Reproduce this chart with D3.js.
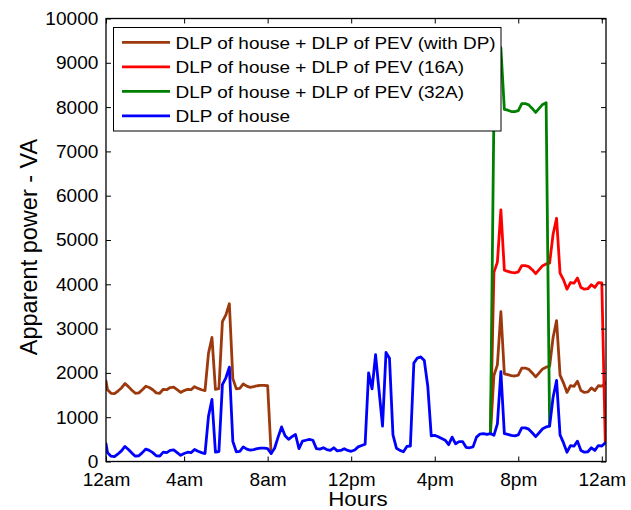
<!DOCTYPE html>
<html><head><meta charset="utf-8">
<script src="https://cdn.jsdelivr.net/npm/d3@7"></script>
<style>body{margin:0;background:#fff} svg{display:block} text{font-family:"Liberation Sans",Arial,sans-serif;fill:#000}</style>
</head><body><svg id="c" width="631" height="510"></svg>
<script>
// 10-minute samples; sample i is at (i+1)*SAMPLE_HOURS hours
const SAMPLE_HOURS = 1 / 6;

// DLP of house (VA)
const house = [
  400,200,120,110,170,240,340,270,190,120,
  130,200,280,250,200,130,120,210,200,250,
  260,200,140,180,210,200,270,230,200,180,
  1020,1400,210,225,1735,1890,2130,450,220,230,
  330,280,255,270,290,300,300,290,180,300,
  550,780,580,500,560,610,290,460,480,500,
  480,290,280,310,270,250,310,240,250,290,
  250,230,260,330,360,390,2000,1640,2410,1600,
  800,2460,2330,600,300,250,220,340,350,2220,
  2335,2360,2280,1700,580,590,560,520,480,380,
  550,400,450,450,320,310,330,550,620,630,
  610,630,590,850,2030,630,610,590,580,600,
  760,760,730,650,560,650,740,780,800,1450,
  1830,600,420,210,360,345,460,250,210,220,
  310,250,360,350,420
];

// DLP of house + DLP of PEV (with DP): morning part starts at sample 0
const dpMorningStart = 0;
const dpMorning = [
  1820,1620,1540,1530,1590,1660,1760,1690,1610,1540,
  1550,1620,1700,1670,1620,1550,1540,1630,1620,1670,
  1680,1620,1560,1600,1630,1620,1690,1650,1620,1600,
  2440,2800,1630,1645,3155,3310,3560,1870,1640,1650,
  1750,1700,1675,1690,1710,1720,1720,1710,180
];
const dpEveningStart = 111;
const dpEvening = [
  630,1940,2180,3380,1980,1960,1940,1930,1950,2110,
  2110,2080,2000,1910,2000,2090,2130,2150,2800,3180,
  1950,1770,1560,1710,1695,1810,1600,1560,1570,1660,
  1600,1710,1700,1770
];

// DLP of house + DLP of PEV (16A)
const pev16Start = 111;
const pev16 = [
  630,4270,4500,5680,4320,4290,4270,4260,4280,4420,
  4420,4400,4330,4240,4330,4420,4460,4480,5130,5490,
  4250,4100,3890,4040,4025,4140,3930,3890,3900,3990,
  3930,4040,4030,420
];

// DLP of house + DLP of PEV (32A)
const pev32Start = 111;
const pev32 = [
  630,7900,8150,9340,7950,7930,7900,7900,7920,8080,
  8080,8050,7970,7880,7970,8060,8100,800
];

const yTickValues = [0,1000,2000,3000,4000,5000,6000,7000,8000,9000,10000];
const xTickHours = [0,4,8,12,16,20,24];
const xTickLabels = ["12am","4am","8am","12pm","4pm","8pm","12am"];
const legendLabels = [
  "DLP of house + DLP of PEV (with DP)",
  "DLP of house + DLP of PEV (16A)",
  "DLP of house + DLP of PEV (32A)",
  "DLP of house"
];
const colors = ["#9c3a0e", "#ff0000", "#008000", "#0000ff"];

const SX = 1.09; // horizontal text stretch of the original figure
const svg = d3.select("#c");
const L = 106, R = 606, T = 18.5, B = 461.5;

const x = d3.scaleLinear().domain([0.26, 24.2]).range([L, R]).clamp(true);
const y = d3.scaleLinear().domain([0, 10000]).range([B, T]);

function pts(arr, start) {
  return arr.map((v, k) => ({ t: (start + k + 1) * SAMPLE_HOURS, v }));
}
const line = d3.line().x(d => x(d.t)).y(d => y(d.v));

const series = [
  { d: pts(dpMorning, dpMorningStart), c: colors[0] },
  { d: pts(dpEvening, dpEveningStart), c: colors[0] },
  { d: pts(pev16, pev16Start), c: colors[1] },
  { d: pts(pev32, pev32Start), c: colors[2] },
  { d: pts(house, 0), c: colors[3] }
];
svg.append("defs").append("clipPath").attr("id", "clip")
  .append("rect").attr("x", L).attr("y", T).attr("width", R - L).attr("height", B - T);
const plot = svg.append("g").attr("clip-path", "url(#clip)");
series.forEach(s => {
  plot.append("path").attr("d", line(s.d)).attr("fill", "none")
    .attr("stroke", s.c).attr("stroke-width", 2.8)
    .attr("stroke-linejoin", "round").attr("stroke-linecap", "round");
});

// axes
const fs = 17.5;
const gB = svg.append("g").attr("transform", `translate(0,${B})`)
  .call(d3.axisBottom(x).tickValues(xTickHours).tickFormat((d, i) => xTickLabels[i])
    .tickSizeInner(-5).tickSizeOuter(0).tickPadding(12));
const gT = svg.append("g").attr("transform", `translate(0,${T})`)
  .call(d3.axisTop(x).tickValues(xTickHours).tickFormat("").tickSizeInner(-5).tickSizeOuter(0));
const gL = svg.append("g").attr("transform", `translate(${L},0)`)
  .call(d3.axisLeft(y).tickValues(yTickValues).tickFormat(d3.format("d"))
    .tickSizeInner(-5).tickSizeOuter(0).tickPadding(7));
const gR = svg.append("g").attr("transform", `translate(${R},0)`)
  .call(d3.axisRight(y).tickValues(yTickValues).tickFormat("").tickSizeInner(-5).tickSizeOuter(0));
[gB, gT, gL, gR].forEach(g => {
  g.select(".domain").remove();
  g.selectAll(".tick line").attr("stroke", "#000").attr("stroke-width", 1);
  g.selectAll("text").attr("font-size", fs).attr("font-family", '"Liberation Sans",Arial,sans-serif')
    .attr("fill", "#000").attr("transform", `scale(${SX},1)`);
});
gL.selectAll("text").attr("dy", "0.34em");

svg.append("rect").attr("x", L).attr("y", T).attr("width", R - L).attr("height", B - T)
  .attr("fill", "none").attr("stroke", "#000").attr("stroke-width", 1.3);

// axis titles
svg.append("text").attr("transform", `translate(358,506) scale(${SX},1)`)
  .attr("text-anchor", "middle").attr("font-size", 20.5).text("Hours");
svg.append("text").attr("transform", `translate(36.5,${(T + B) / 2 + 7}) rotate(-90)`)
  .attr("text-anchor", "middle").attr("font-size", 23.5).text("Apparent power - VA");

// legend
const lg = svg.append("g");
lg.append("rect").attr("x", 113.5).attr("y", 27.5).attr("width", 387.5).attr("height", 103.5)
  .attr("fill", "#fff").attr("stroke", "#000").attr("stroke-width", 1);
legendLabels.forEach((lab, i) => {
  const cy = 42.3 + i * 24.5;
  lg.append("line").attr("x1", 122).attr("x2", 170).attr("y1", cy).attr("y2", cy)
    .attr("stroke", colors[i]).attr("stroke-width", 2.8);
  lg.append("text").attr("transform", `translate(175.5,${cy + 6.2}) scale(${SX},1)`)
    .attr("font-size", 17.4).text(lab);
});
</script></body></html>
